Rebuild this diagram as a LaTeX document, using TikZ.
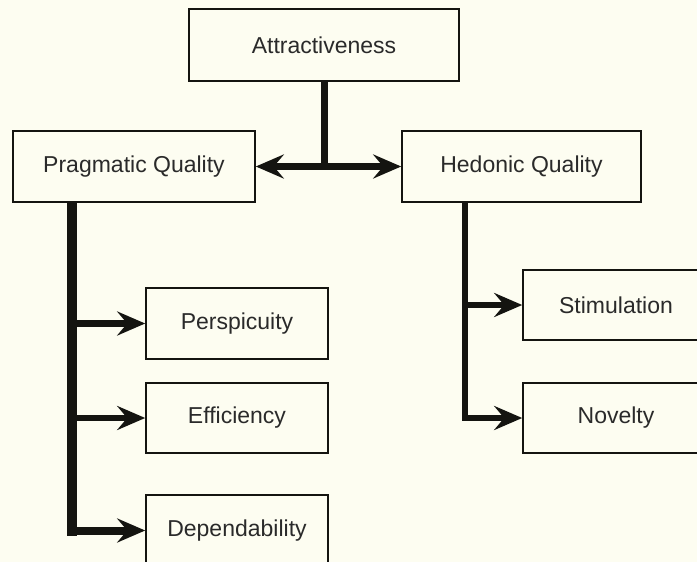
\documentclass[tikz,border=0pt]{standalone}
\usepackage{fontspec}
\setmainfont{Liberation Sans}
\usetikzlibrary{arrows.meta}
\definecolor{bg}{HTML}{FDFDF1}
\definecolor{ink}{HTML}{141410}
\definecolor{txt}{HTML}{2A2A2A}
\begin{document}
\begin{tikzpicture}[x=1pt,y=-1pt,
  box/.style={draw=ink, line width=1.6pt, rectangle, inner sep=0pt, text=txt,
    font=\fontsize{23}{27}\selectfont},
  conn/.style={draw=ink, line width=6.5pt},
  tip/.tip={Stealth[length=28pt,width=24pt,inset=10pt]},
  arr/.style={conn, -tip},
]
\useasboundingbox (0,0) rectangle (697,562);
\clip (0,0) rectangle (697,562);
\fill[bg] (0,0) rectangle (697,562);

\node[box, minimum width=270pt, minimum height=72pt] (attr) at (324,45) {Attractiveness};
\node[box, minimum width=242pt, minimum height=71pt] (prag) at (134,166.5) {Pragmatic Quality};
\node[box, minimum width=239pt, minimum height=71pt] (hed) at (521.5,166.5) {Hedonic Quality};
\node[box, minimum width=182pt, minimum height=71pt] (persp) at (237,323.5) {Perspicuity};
\node[box, minimum width=182pt, minimum height=70pt] (eff) at (237,418) {Efficiency};
\node[box, minimum width=182pt, minimum height=71pt] (dep) at (237,530.5) {Dependability};
\node[box, minimum width=186pt, minimum height=70pt] (stim) at (616,305) {Stimulation};
\node[box, minimum width=186pt, minimum height=70pt] (nov) at (616,418) {Novelty};

% Attractiveness to the two qualities
\draw[conn, line width=7pt] (attr.south) -- (attr.south |- prag.east);
\draw[conn, tip-tip] (prag.east) -- (hed.west);

% Pragmatic branch
\coordinate (pv) at ([xshift=60pt]prag.south west);
\draw[conn, line width=10pt] (pv) -- ([yshift=-5pt]pv |- dep.west);
\draw[arr] (pv |- persp.west) -- (persp.west);
\draw[arr] (pv |- eff.west) -- (eff.west);
\draw[arr, line width=8pt] (pv |- dep.west) -- (dep.west);

% Hedonic branch
\coordinate (hv) at ([xshift=64pt]hed.south west);
\draw[conn] (hv) -- ([yshift=-3.25pt]hv |- nov.west);
\draw[arr] (hv |- stim.west) -- (stim.west);
\draw[arr] (hv |- nov.west) -- (nov.west);
\end{tikzpicture}
\end{document}
